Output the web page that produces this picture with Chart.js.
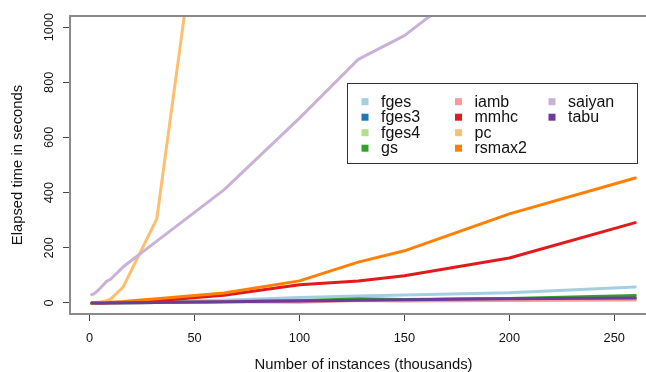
<!DOCTYPE html>
<html><head><meta charset="utf-8">
<script src="https://cdn.jsdelivr.net/npm/chart.js@4.4.1/dist/chart.umd.min.js"></script>
<style>html,body{margin:0;padding:0;overflow:hidden;background:#fff;width:646px;height:372px}canvas{display:block}</style>
</head><body>
<canvas id="c" width="660" height="372" style="width:660px;height:372px"></canvas>
<script>
// ---- data ----
const instances = [1, 2, 4, 8, 10, 16, 32, 64, 100, 128, 150, 200, 260];
const fges   = [0, 0, 0, 1, 1, 2, 4, 10, 20, 25, 29, 37, 58];
const fges3  = [0, 0, 0, 0, 0, 1, 2, 4, 7, 10, 12, 15, 17];
const fges4  = [0, 0, 0, 0, 1, 1, 2, 4, 7, 9, 12, 14, 17];
const gs     = [0, 0, 0, 1, 1, 1, 2, 5, 8, 15, 13, 16, 27];
const iamb   = [0, 0, 0, 0, 0, 1, 2, 4, 3, 9, 7, 9, 11];
const mmhc   = [0, 0, 0, 1, 1, 2, 8, 28, 66, 80, 99, 163, 291];
const pc     = [0, 1, 2, 8, 14, 58, 305, 2100, null, null, null, null, null];
const rsmax2 = [0, 0, 1, 2, 3, 5, 15, 36, 80, 148, 189, 323, 453];
const saiyan = [30, 33, 45, 78, 86, 131, 224, 410, 670, 883, 969, 1260, null];
const tabu   = [0, 0, 0, 0, 1, 1, 2, 4, 7, 10, 12, 15, 18];
const seriesNames = ['fges', 'fges3', 'fges4', 'gs', 'iamb', 'mmhc', 'pc', 'rsmax2', 'saiyan', 'tabu'];
const seriesValues = [fges, fges3, fges4, gs, iamb, mmhc, pc, rsmax2, saiyan, tabu];
const xTickValues = [0, 50, 100, 150, 200, 250];
const yTickValues = [0, 200, 400, 600, 800, 1000];
const xTitle = 'Number of instances (thousands)';
const yTitle = 'Elapsed time in seconds';

// ---- style ----
const palette = ['#A6CEE3', '#1F78B4', '#B2DF8A', '#33A02C', '#FB9A99', '#E31A1C', '#FDBF6F', '#FF7F00', '#CAB2D6', '#6A3D9A'];
const FONT = "'Liberation Sans', Arial, Helvetica, sans-serif";
const BOX = '#8a8a8a';
const TICK = '#444';

const datasets = seriesNames.map((name, i) => ({
  label: name,
  data: instances.map((x, j) => ({ x: x, y: seriesValues[i][j] })),
  borderColor: palette[i],
  backgroundColor: palette[i],
  borderWidth: 3,
  pointRadius: 0,
  pointHoverRadius: 0,
  tension: 0,
  fill: false,
  clip: 0,
  borderCapStyle: 'round',
  borderJoinStyle: 'round',
  order: seriesNames.length - i
}));

const boxPlugin = {
  id: 'boxAndLabels',
  afterDraw(chart) {
    const ctx = chart.ctx, a = chart.chartArea, ys = chart.scales.y;
    ctx.save();
    ctx.strokeStyle = BOX; ctx.lineWidth = 2;
    ctx.beginPath();
    ctx.moveTo(a.left - 1, a.top); ctx.lineTo(a.right + 1, a.top);
    ctx.moveTo(a.right, a.top); ctx.lineTo(a.right, a.bottom);
    ctx.stroke();
    // rotated y tick labels (R style)
    ctx.fillStyle = '#111';
    ctx.font = '12.8px ' + FONT;
    ctx.textAlign = 'center'; ctx.textBaseline = 'alphabetic';
    ys.ticks.forEach(t => {
      const py = ys.getPixelForValue(t.value);
      ctx.save();
      ctx.translate(53, py);
      ctx.rotate(-Math.PI / 2);
      ctx.fillText(String(t.value), 0, 0);
      ctx.restore();
    });
    ctx.restore();
  },
  afterDatasetsDraw(chart) {
    const ctx = chart.ctx;
    ctx.save();
    ctx.fillStyle = '#fff';
    ctx.fillRect(347, 83, 291, 81);
    ctx.strokeStyle = '#333'; ctx.lineWidth = 1;
    ctx.strokeRect(347.5, 83.5, 290, 80);
    ctx.font = '16px ' + FONT;
    ctx.textAlign = 'left'; ctx.textBaseline = 'alphabetic';
    chart.data.datasets.forEach((ds, i) => {
      const col = Math.floor(i / 4), row = i % 4;
      const cx = 365 + col * 93.5, cy = 101.7 + row * 15.5;
      ctx.fillStyle = ds.borderColor;
      ctx.fillRect(cx - 3.5, cy - 3.5, 7, 7);
      ctx.fillStyle = '#111';
      ctx.fillText(ds.label, cx + 16, cy + 5);
    });
    ctx.restore();
  }
};

new Chart(document.getElementById('c'), {
  type: 'line',
  data: { datasets: datasets },
  plugins: [boxPlugin],
  options: {
    responsive: false,
    animation: false,
    devicePixelRatio: 1,
    layout: { padding: { top: 16, right: 3, left: 0, bottom: 0 } },
    plugins: { legend: { display: false }, tooltip: { enabled: false } },
    events: [],
    scales: {
      x: {
        type: 'linear', min: -9.36, max: 270.36,
        afterBuildTicks: s => { s.ticks = xTickValues.map(v => ({ value: v })); },
        afterFit: s => { s.height = 58; },
        grid: { drawOnChartArea: false, drawTicks: true, tickLength: 7, tickColor: TICK, tickWidth: 1 },
        border: { display: true, color: BOX, width: 2 },
        ticks: { font: { family: FONT, size: 12.8 }, color: '#111', padding: 10, maxRotation: 0, minRotation: 0, autoSkip: false },
        title: { display: true, text: xTitle, color: '#111', font: { family: FONT, size: 14.8, lineHeight: 0.9 }, padding: { top: 0, bottom: 0 } }
      },
      y: {
        type: 'linear', min: -40, max: 1040,
        afterBuildTicks: s => { s.ticks = yTickValues.map(v => ({ value: v })); },
        afterFit: s => { s.width = 70; },
        grid: { drawOnChartArea: false, drawTicks: true, tickLength: 7, tickColor: TICK, tickWidth: 1 },
        border: { display: true, color: BOX, width: 2 },
        ticks: { display: false },
        title: { display: true, text: yTitle, color: '#111', font: { family: FONT, size: 14.8, lineHeight: 1.2 }, padding: { top: 9, bottom: 0 } }
      }
    }
  }
});
</script>
</body></html>
